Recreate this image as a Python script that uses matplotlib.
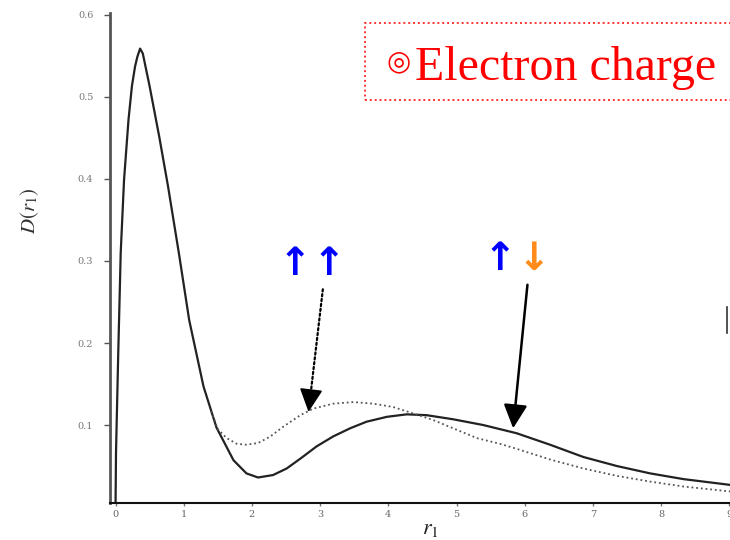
import matplotlib
matplotlib.use("Agg")
import matplotlib.pyplot as plt
from matplotlib.patches import Rectangle
from matplotlib.lines import Line2D

# ---- data ----
r_solid = [0.0, 0.007, 0.04, 0.076, 0.125, 0.19, 0.24, 0.286, 0.32, 0.36, 0.40, 0.43, 0.50,
           0.64, 0.77, 0.93, 1.08, 1.29, 1.48, 1.73, 1.92, 2.09, 2.31, 2.51, 2.71, 2.95,
           3.19, 3.44, 3.68, 3.98, 4.27, 4.56, 4.95, 5.39, 5.88, 6.37, 6.86, 7.35, 7.84,
           8.33, 9.01]
d_solid = [0.0, 0.066, 0.188, 0.310, 0.399, 0.472, 0.513, 0.537, 0.549, 0.559, 0.553, 0.541, 0.513,
           0.452, 0.391, 0.309, 0.228, 0.147, 0.097, 0.057, 0.041, 0.036, 0.039, 0.047, 0.059, 0.074,
           0.086, 0.096, 0.104, 0.110, 0.113, 0.112, 0.107, 0.100, 0.090, 0.076, 0.061, 0.050, 0.041,
           0.034, 0.027]

r_dotted = [1.40, 1.50, 1.63, 1.78, 1.92, 2.09, 2.27, 2.46, 2.71, 2.90, 3.19, 3.49, 3.78, 4.07,
            4.37, 4.66, 4.95, 5.30, 5.64, 5.88, 6.37, 6.86, 7.35, 7.84, 8.33, 9.01]
d_dotted = [0.117, 0.095, 0.084, 0.077, 0.076, 0.078, 0.086, 0.098, 0.112, 0.120, 0.126, 0.128,
            0.126, 0.122, 0.114, 0.106, 0.096, 0.084, 0.077, 0.071, 0.058, 0.047, 0.038, 0.031,
            0.025, 0.019]

y_ticks = [0.1, 0.2, 0.3, 0.4, 0.5, 0.6]
x_ticks = [0, 1, 2, 3, 4, 5, 6, 7, 8, 9]

fig = plt.figure(figsize=(7.3, 5.4), dpi=100)
fig.patch.set_facecolor("white")
ax = fig.add_axes([110 / 730, 37 / 540, 620 / 730, 490 / 540])

ax.plot(r_solid, d_solid, color="#222222", lw=1.6, solid_joinstyle="round")
ax.plot(r_dotted, d_dotted, color="#555555", lw=1.3, linestyle=(0, (1, 1.6)))

ax.set_xlim(-0.081, 9.01)
ax.set_ylim(0.0049, 0.6024)

for s in ["top", "right"]:
    ax.spines[s].set_visible(False)
ax.spines["left"].set_color("#555555")
ax.spines["left"].set_linewidth(2.0)
ax.spines["bottom"].set_color("#111111")
ax.spines["bottom"].set_linewidth(1.5)

ax.set_yticks(y_ticks)
ax.set_yticklabels([f"{v:.1f}" for v in y_ticks], family="DejaVu Serif", fontsize=7, color="#777777")
ax.set_xticks(x_ticks)
ax.set_xticklabels([str(v) for v in x_ticks], family="DejaVu Serif", fontsize=7, color="#666666")
ax.tick_params(axis="y", direction="out", length=4, width=1, color="#555555", pad=8)
ax.tick_params(axis="x", direction="out", length=2, width=1, color="#777777", pad=3)

plt.rcParams["mathtext.fontset"] = "stix"
fig.text(30 / 730, 1 - 211 / 540, r"$D(r_1)$", rotation=90, fontsize=15, color="#333333",
         ha="center", va="center")
fig.text(430 / 730, 1 - 534 / 540, r"$r_1$", fontsize=16, color="#222222", ha="center", va="baseline")

# spin arrows
fig.text(295 / 730, 1 - 264 / 540, "↑", fontsize=28, fontweight="bold", color="#0000ff",
         ha="center", va="center", family="DejaVu Sans")
fig.text(329 / 730, 1 - 264 / 540, "↑", fontsize=28, fontweight="bold", color="#0000ff",
         ha="center", va="center", family="DejaVu Sans")
fig.text(500 / 730, 1 - 259 / 540, "↑", fontsize=28, fontweight="bold", color="#0000ff",
         ha="center", va="center", family="DejaVu Sans")
fig.text(534 / 730, 1 - 259 / 540, "↓", fontsize=28, fontweight="bold", color="#ff8c1a",
         ha="center", va="center", family="DejaVu Sans")

# pointer arrows
d_start, d_tip = (3.04, 0.2655), (2.83, 0.116)
d_mid = (d_start[0] + 0.85 * (d_tip[0] - d_start[0]), d_start[1] + 0.85 * (d_tip[1] - d_start[1]))
ax.annotate("", xy=d_mid, xytext=d_start,
            arrowprops=dict(arrowstyle="-", color="black", lw=1.6, linestyle=(0, (1, 1.2)),
                            shrinkA=0, shrinkB=0))
ax.annotate("", xy=d_tip, xytext=d_mid,
            arrowprops=dict(arrowstyle="-|>,head_length=0.9,head_width=0.45", color="black",
                            lw=1.2, mutation_scale=16, shrinkA=0, shrinkB=0))
ax.annotate("", xy=(5.83, 0.096), xytext=(6.04, 0.271),
            arrowprops=dict(arrowstyle="-|>,head_length=0.9,head_width=0.45", color="black",
                            lw=1.8, mutation_scale=16, shrinkA=0, shrinkB=0))

# title box
fig.patches.append(Rectangle((365 / 730, 1 - 100 / 540), 400 / 730, 77 / 540,
                             transform=fig.transFigure, fill=False, edgecolor="#ff3333",
                             lw=1.4, linestyle=(0, (1, 1.5)), clip_on=False))
fig.text(399 / 730, 1 - 61 / 540, "◎", fontsize=20, color="#ff0000", ha="center", va="center",
         family="DejaVu Sans")
fig.text(415 / 730, 1 - 80 / 540, "Electron charge", fontsize=34.5, color="#ff0000",
         family="Liberation Serif", ha="left", va="baseline")

fig.lines.append(Line2D([727 / 730, 727 / 730], [1 - 307 / 540, 1 - 333 / 540],
                        transform=fig.transFigure, color="#333333", lw=1.2))

fig.savefig("out.png", dpi=100, facecolor="white")
